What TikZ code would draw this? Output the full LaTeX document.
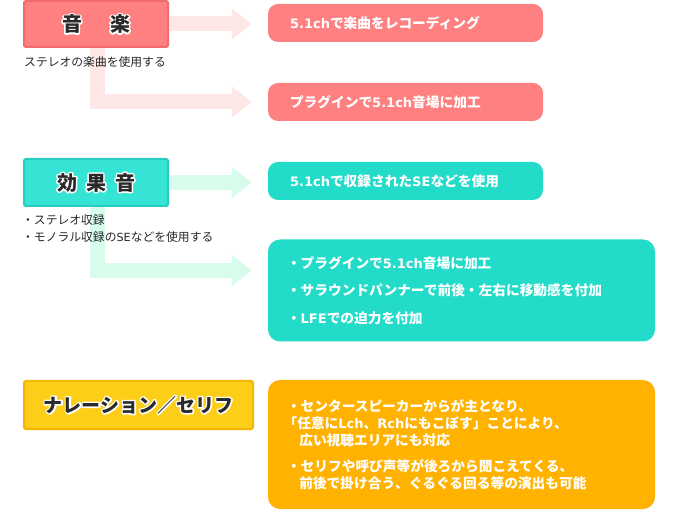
\documentclass[tikz,border=0pt]{standalone}
\usepackage{fontspec}
\setmainfont{Noto Sans CJK JP}
\newfontfamily\latin{DejaVu Sans}[Scale=0.95]
\usetikzlibrary{arrows.meta}

\definecolor{pinkbox}{HTML}{FF8080}
\definecolor{pinkline}{HTML}{F26A6A}
\definecolor{pinkarrow}{HTML}{FDE7E7}
\definecolor{tealbox}{HTML}{22DCC9}
\definecolor{tealhead}{HTML}{36E4D5}
\definecolor{tealline}{HTML}{27CDBE}
\definecolor{mintarrow}{HTML}{D8FCEC}
\definecolor{yellowhead}{HTML}{FCCE17}
\definecolor{yellowline}{HTML}{F7B500}
\definecolor{orangebox}{HTML}{FFB300}
\definecolor{headtext}{HTML}{2A2A2A}
\definecolor{captext}{HTML}{262626}

% white halo behind heading text
\newcommand{\outl}[1]{\rlap{\textcolor{white}{\special{pdf:literal direct 1 j 2 Tr 3 w}#1\special{pdf:literal direct 0 Tr}}}#1}
\newcommand{\lt}[1]{{\latin #1}}

\begin{document}
\begin{tikzpicture}[x=1pt, y=-1pt,
  head/.style={draw, line width=2pt, rounded corners=2pt, font=\fontsize{20}{24}\selectfont\bfseries,
               text=headtext, inner sep=0pt},
  item/.style={rounded corners=10pt, font=\fontsize{13.7}{16}\selectfont\bfseries, text=white,
               align=left, inner xsep=22pt, inner ysep=0pt, minimum height=38pt},
  block/.style={item, rounded corners=12pt, inner xsep=19pt},
  caption/.style={font=\fontsize{11.8}{17}\selectfont, text=captext, align=left, inner sep=0pt},
  fat/.style={line width=15pt, line join=miter, -{Triangle[length=20pt, width=30pt]}}
]
\useasboundingbox (0,0) rectangle (680,510);

% headers
\node[head, fill=pinkbox, draw=pinkline, minimum width=144pt, minimum height=46pt] (h1) at (96,24)
  {\outl{音}\hspace{1.4em}\outl{楽}};
\node[head, fill=tealhead, draw=tealline, minimum width=144pt, minimum height=47pt] (h2) at (96,182.5)
  {\outl{効}\hspace{0.45em}\outl{果}\hspace{0.45em}\outl{音}};
\node[head, fill=yellowhead, draw=yellowline, minimum width=229pt, minimum height=48pt,
      font=\fontsize{19}{22}\selectfont\bfseries] (h3) at (138.5,405) {\outl{ナレーション／セリフ}};

% right hand boxes
\node[item, fill=pinkbox, text width=231pt] (b1) at (405.5,23) {\lt{5.1ch}で楽曲をレコーディング};
\node[item, fill=pinkbox, text width=231pt] (b2) at (405.5,102) {プラグインで\lt{5.1ch}音場に加工};
\node[item, fill=tealbox, text width=231pt] (b3) at (405.5,181) {\lt{5.1ch}で収録された\lt{SE}などを使用};
\node[block, fill=tealbox, text width=349pt, minimum height=102pt] (b4) at (461.5,290.5)
  {・プラグインで\lt{5.1ch}音場に加工\\[11.5pt]・サラウンドパンナーで前後・左右に移動感を付加\\[11.5pt]・\lt{LFE}での迫力を付加};
\node[block, fill=orangebox, text width=349pt, minimum height=129pt, font=\fontsize{13.7}{17}\selectfont\bfseries] (b5) at (461.5,444.5)
  {・センタースピーカーからが主となり、\\
   \hspace*{-0.25em}「任意に\lt{Lch}、\lt{Rch}にもこぼす」ことにより、\\
   \hspace*{0.9em}広い視聴エリアにも対応\\[9pt]
   ・セリフや呼び声等が後ろから聞こえてくる、\\
   \hspace*{0.9em}前後で掛け合う、ぐるぐる回る等の演出も可能};

% arrows
\draw[fat, pinkarrow] (h1.east) -- ([xshift=-16pt]h1.east -| b1.west);
\draw[fat, pinkarrow] ([xshift=1.5pt]h1.south) |- ([xshift=-16pt]b2.west);
\draw[fat, mintarrow] (h2.east) -- ([xshift=-16pt]h2.east -| b3.west);
\draw[fat, mintarrow] ([xshift=1.5pt]h2.south) |- ([xshift=-16pt, yshift=20pt]b4.west);

% notes under the headers
\node[caption, anchor=west] (c1) at (24,62) {ステレオの楽曲を使用する};
\node[caption, anchor=west] (c2) at (22,228.5) {・ステレオ収録\\・モノラル収録の\lt{SE}などを使用する};
\end{tikzpicture}
\end{document}
